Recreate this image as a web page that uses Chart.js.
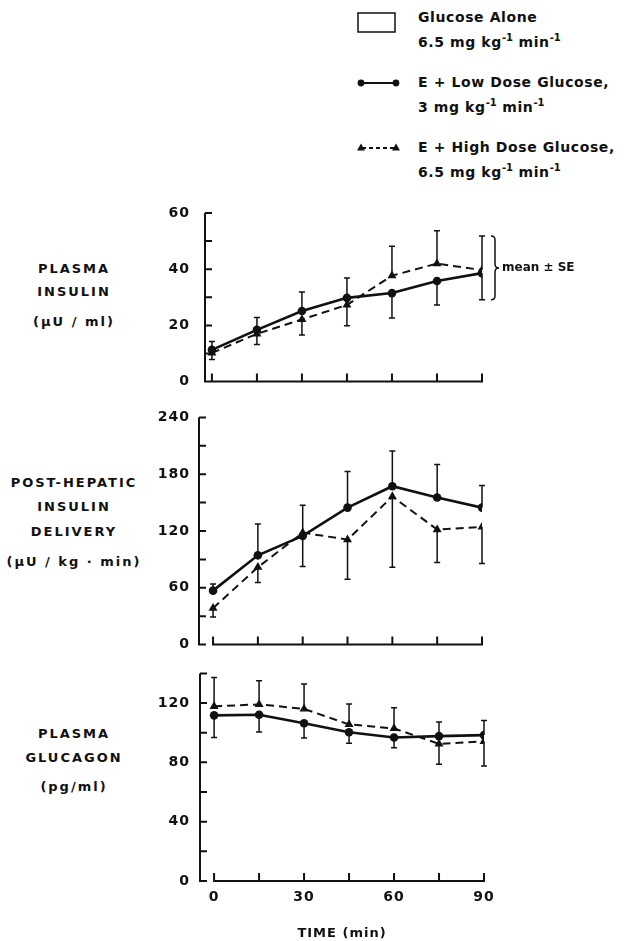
<!DOCTYPE html>
<html>
<head>
<meta charset="utf-8">
<script src="https://cdn.jsdelivr.net/npm/chart.js@4.4.0/dist/chart.umd.min.js"></script>
<style>
body { margin: 0; background: #fff; width: 624px; height: 941px; position: relative; overflow: hidden; font-family: "DejaVu Sans", sans-serif; color: #111; }
canvas { position: absolute; left: 0; }
.lab { position: absolute; left: 0; width: 148px; text-align: center; font-weight: bold; font-size: 13px; letter-spacing: 2px; line-height: 16px; white-space: nowrap; }
.leg { position: absolute; left: 418px; font-size: 14px; font-weight: bold; letter-spacing: 0.6px; line-height: 25px; white-space: nowrap; }
.leg sup { font-size: 10px; vertical-align: 6px; line-height: 0; letter-spacing: 0; }
</style>
</head>
<body>

<div class="leg" style="top:5px">Glucose Alone<br>6.5 mg kg<sup>-1</sup> min<sup>-1</sup></div>
<div class="leg" style="top:70px">E + Low Dose Glucose,<br>3 mg kg<sup>-1</sup> min<sup>-1</sup></div>
<div class="leg" style="top:135px">E + High Dose Glucose,<br>6.5 mg kg<sup>-1</sup> min<sup>-1</sup></div>

<div class="lab" style="top:261px">PLASMA</div>
<div class="lab" style="top:284px">INSULIN</div>
<div class="lab" style="top:314px">(μU / ml)</div>

<div class="lab" style="top:475px">POST-HEPATIC</div>
<div class="lab" style="top:499px">INSULIN</div>
<div class="lab" style="top:524px">DELIVERY</div>
<div class="lab" style="top:554px">(μU / kg · min)</div>

<div class="lab" style="top:726px">PLASMA</div>
<div class="lab" style="top:750px">GLUCAGON</div>
<div class="lab" style="top:779px">(pg/ml)</div>

<canvas id="insulin" width="624" height="405" style="top:0"></canvas>
<canvas id="delivery" width="624" height="262" style="top:400px"></canvas>
<canvas id="glucagon" width="624" height="286" style="top:655px"></canvas>

<script>
// sampling times (min)
const timePoints = [0, 15, 30, 45, 60, 75, 90];
const timeTicks = [0, 15, 30, 45, 60, 75, 90];

// plasma insulin (uU/ml)
const insulinLow = [11.3, 18.4, 25.1, 29.8, 31.5, 35.8, 38.6];
const insulinLowUp = [3.0, 4.4, 6.8, 7.1, 0, 0, 0];
const insulinLowDown = [0, 0, 0, 0, 8.9, 8.5, 9.5];
const insulinHigh = [10.2, 17.0, 22.1, 27.3, 37.7, 42.0, 39.7];
const insulinHighUp = [0, 0, 0, 0, 10.5, 11.7, 12.1];
const insulinHighDown = [2.3, 3.8, 5.5, 7.4, 0, 0, 0];

// post-hepatic insulin delivery (uU/kg.min)
const deliveryLow = [57, 94.3, 114.8, 144.7, 167.3, 155.4, 144.7];
const deliveryLowUp = [7, 33.2, 32.3, 38.2, 37.2, 34.8, 23.3];
const deliveryLowDown = [0, 0, 0, 0, 0, 0, 0];
const deliveryHigh = [38.5, 81.7, 118.2, 110.9, 156.4, 121.5, 124.2];
const deliveryHighUp = [0, 0, 0, 0, 0, 0, 0];
const deliveryHighDown = [9.3, 16, 35.8, 41.9, 74.7, 34.9, 38.6];

// plasma glucagon (pg/ml)
const glucagonLow = [111.7, 112.1, 106.4, 100.3, 96.8, 97.7, 98.4];
const glucagonLowUp = [0, 0, 0, 0, 0, 9.6, 9.8];
const glucagonLowDown = [14.9, 11.6, 10, 7.4, 7, 0, 0];
const glucagonHigh = [117.8, 119.1, 116.1, 105.6, 102.9, 92.5, 94.2];
const glucagonHighUp = [19.5, 16, 16.8, 13.7, 14, 0, 0];
const glucagonHighDown = [0, 0, 0, 0, 0, 13.8, 16.6];

const ink = '#111';

// axis lines + inward tick marks
const frame = {
  id: 'frame',
  beforeDraw(chart) {
    chart.ctx.letterSpacing = '1px';
  },
  beforeDatasetsDraw(chart) {
    const { ctx, chartArea } = chart;
    const x = chart.scales.x, y = chart.scales.y;
    const y0 = y.getPixelForValue(y.min);
    ctx.save();
    ctx.strokeStyle = ink;
    ctx.lineWidth = 2;
    ctx.beginPath();
    ctx.moveTo(chartArea.left, y.getPixelForValue(y.max));
    ctx.lineTo(chartArea.left, y0 + 1);
    y.ticks.forEach(t => {
      const p = y.getPixelForValue(t.value);
      ctx.moveTo(chartArea.left, p);
      ctx.lineTo(chartArea.left + 7, p);
    });
    ctx.moveTo(x.getPixelForValue(timeTicks[0]), y0);
    ctx.lineTo(x.getPixelForValue(timeTicks[timeTicks.length - 1]), y0);
    timeTicks.forEach(t => {
      const p = x.getPixelForValue(t);
      ctx.moveTo(p, y0 + 1);
      ctx.lineTo(p, y0 - 8);
    });
    ctx.stroke();
    ctx.restore();
  }
};

// one-sided SE bars
const errorBars = {
  id: 'errorBars',
  afterDatasetsDraw(chart) {
    const { ctx } = chart;
    const x = chart.scales.x, y = chart.scales.y;
    ctx.save();
    ctx.strokeStyle = ink;
    ctx.lineWidth = 1.5;
    chart.data.datasets.forEach(ds => {
      ds.data.forEach((pt, i) => {
        const px = x.getPixelForValue(pt.x);
        [[ds.errUp[i], 1], [ds.errDown[i], -1]].forEach(([e, dir]) => {
          if (!e) return;
          const p0 = y.getPixelForValue(pt.y);
          const p1 = y.getPixelForValue(pt.y + dir * e);
          ctx.beginPath();
          ctx.moveTo(px, p0);
          ctx.lineTo(px, p1);
          ctx.moveTo(px - 3, p1);
          ctx.lineTo(px + 3, p1);
          ctx.stroke();
        });
      });
    });
    ctx.restore();
  }
};

// "mean ± SE" brace beside the last time point
const meanBrace = {
  id: 'meanBrace',
  afterDraw(chart) {
    const { ctx } = chart;
    const x = chart.scales.x, y = chart.scales.y;
    const last = timePoints.length - 1;
    let hi = -Infinity, lo = Infinity;
    chart.data.datasets.forEach(ds => {
      const v = ds.data[last].y;
      hi = Math.max(hi, v + ds.errUp[last]);
      lo = Math.min(lo, v - ds.errDown[last]);
    });
    const x0 = x.getPixelForValue(timePoints[last]) + 9;
    const top = y.getPixelForValue(hi), bot = y.getPixelForValue(lo);
    const mid = (top + bot) / 2, w = 4;
    ctx.save();
    ctx.strokeStyle = ink;
    ctx.lineWidth = 1.5;
    ctx.beginPath();
    ctx.moveTo(x0, top);
    ctx.quadraticCurveTo(x0 + w, top, x0 + w, top + w);
    ctx.lineTo(x0 + w, mid - w);
    ctx.quadraticCurveTo(x0 + w, mid, x0 + 2 * w, mid);
    ctx.quadraticCurveTo(x0 + w, mid, x0 + w, mid + w);
    ctx.lineTo(x0 + w, bot - w);
    ctx.quadraticCurveTo(x0 + w, bot, x0, bot);
    ctx.stroke();
    ctx.letterSpacing = '0px';
    ctx.fillStyle = ink;
    ctx.font = 'bold 12px "DejaVu Sans"';
    ctx.textBaseline = 'middle';
    ctx.fillText('mean ± SE', x0 + 2 * w + 3, mid);
    ctx.restore();
  }
};

// legend symbols (text is HTML)
const legendMarks = {
  id: 'legendMarks',
  afterDraw(chart) {
    const { ctx } = chart;
    ctx.save();
    ctx.strokeStyle = ink;
    ctx.fillStyle = ink;
    ctx.lineWidth = 1.5;
    ctx.strokeRect(358, 13, 37, 19);
    ctx.lineWidth = 2;
    ctx.beginPath();
    ctx.moveTo(361, 83);
    ctx.lineTo(396, 83);
    ctx.stroke();
    [361, 396].forEach(cx => {
      ctx.beginPath();
      ctx.arc(cx, 83, 3.4, 0, Math.PI * 2);
      ctx.fill();
    });
    ctx.setLineDash([4, 3]);
    ctx.beginPath();
    ctx.moveTo(362, 148);
    ctx.lineTo(395, 148);
    ctx.stroke();
    ctx.setLineDash([]);
    [361, 396].forEach(cx => {
      ctx.beginPath();
      ctx.moveTo(cx, 143.5);
      ctx.lineTo(cx + 4, 150.5);
      ctx.lineTo(cx - 4, 150.5);
      ctx.closePath();
      ctx.fill();
    });
    ctx.restore();
  }
};

function series(vals, up, down, high) {
  return {
    data: timePoints.map((t, i) => ({ x: t, y: vals[i] })),
    errUp: up,
    errDown: down,
    borderColor: ink,
    backgroundColor: ink,
    borderWidth: high ? 2 : 2.6,
    borderDash: high ? [8, 5] : [],
    pointStyle: high ? 'triangle' : 'circle',
    pointRadius: high ? 5.2 : 4.3,
    pointBorderWidth: 0,
    tension: 0
  };
}

function makePanel(id, p) {
  const canvas = document.getElementById(id);
  return new Chart(canvas, {
    type: 'line',
    data: { datasets: p.datasets },
    options: {
      responsive: false,
      animation: false,
      layout: { padding: { left: 0, top: p.top, right: 624 - p.right, bottom: p.bottom } },
      plugins: { legend: { display: false }, tooltip: { enabled: false } },
      scales: {
        x: {
          type: 'linear',
          min: p.xMin,
          max: 90,
          display: !!p.showTime,
          grid: { display: false, drawTicks: false },
          border: { display: false },
          afterBuildTicks: s => { s.ticks = timeTicks.map(v => ({ value: v })); },
          afterFit: s => { s.height = p.xHeight || 0; },
          ticks: {
            autoSkip: false,
            maxRotation: 0,
            padding: 8,
            color: ink,
            font: { family: '"DejaVu Sans"', size: 14, weight: 'bold' },
            callback: v => (v % 30 === 0 ? v : '')
          },
          title: {
            display: !!p.showTime,
            text: 'TIME (min)',
            color: ink,
            font: { family: '"DejaVu Sans"', size: 13, weight: 'bold' },
            padding: { top: 0, bottom: 0 }
          }
        },
        y: {
          min: 0,
          max: p.yMax,
          grid: { display: false, drawTicks: false },
          border: { display: false },
          afterFit: s => { s.width = p.axisX; },
          ticks: {
            stepSize: p.step,
            autoSkip: false,
            padding: p.axisX - 190,
            color: ink,
            font: { family: '"DejaVu Sans"', size: 14, weight: 'bold' },
            callback: v => (v % p.labelEvery === 0 ? v : '')
          }
        }
      }
    },
    plugins: [frame, errorBars].concat(p.extra || [])
  });
}

makePanel('insulin', {
  datasets: [
    series(insulinLow, insulinLowUp, insulinLowDown, false),
    series(insulinHigh, insulinHighUp, insulinHighDown, true)
  ],
  top: 213, bottom: 405 - 394, right: 482, axisX: 205, xMin: -2.3,
  yMax: 60, step: 10, labelEvery: 20,
  extra: [meanBrace, legendMarks]
});

makePanel('delivery', {
  datasets: [
    series(deliveryLow, deliveryLowUp, deliveryLowDown, false),
    series(deliveryHigh, deliveryHighUp, deliveryHighDown, true)
  ],
  top: 11, bottom: 262 - 252, right: 482, axisX: 199, xMin: -4.7,
  yMax: 240, step: 30, labelEvery: 60
});

makePanel('glucagon', {
  datasets: [
    series(glucagonLow, glucagonLowUp, glucagonLowDown, false),
    series(glucagonHigh, glucagonHighUp, glucagonHighDown, true)
  ],
  top: 13, bottom: 0, right: 484, axisX: 200, xMin: -4.7, xHeight: 60,
  yMax: 140, step: 20, labelEvery: 40, showTime: true
});
</script>
</body>
</html>
